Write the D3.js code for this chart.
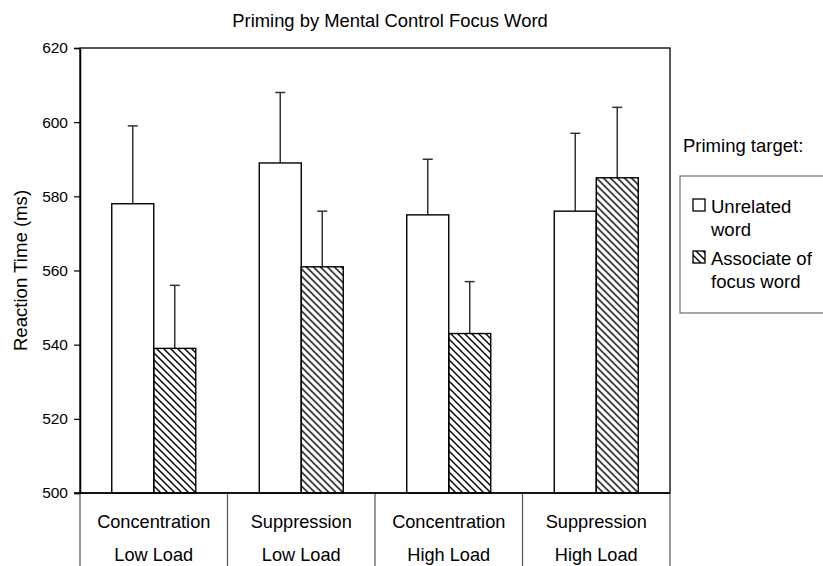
<!DOCTYPE html>
<html>
<head>
<meta charset="utf-8">
<script src="https://cdn.jsdelivr.net/npm/d3@7"></script>
<style>
  body { margin: 0; background: #fff; }
  svg { font-family: "Liberation Sans", Arial, sans-serif; }
</style>
</head>
<body>
<svg id="chart" width="823" height="566"></svg>
<script>
// data
const conditions = ["Concentration|Low Load", "Suppression|Low Load", "Concentration|High Load", "Suppression|High Load"];
const series = ["Unrelated word", "Associate of focus word"];
const unrelated = [578, 589, 575, 576];
const associate = [539, 561, 543, 585];
const unrelatedErr = [21, 19, 15, 21];
const associateErr = [17, 15, 14, 19];
const yTicks = [500, 520, 540, 560, 580, 600, 620];

const rows = conditions.map((c, i) => ({
  cond: c,
  bars: [
    {s: series[0], v: unrelated[i], e: unrelatedErr[i]},
    {s: series[1], v: associate[i], e: associateErr[i]}
  ]
}));

const margin = {top: 48, right: 153, bottom: 73, left: 80},
    width = 823 - margin.left - margin.right,
    height = 566 - margin.top - margin.bottom;

const root = d3.select("#chart");

// hatch pattern for the associate bars
const defs = root.append("defs");
defs.append("pattern")
    .attr("id", "hatch")
    .attr("patternUnits", "userSpaceOnUse")
    .attr("width", 7).attr("height", 7)
  .append("path")
    .attr("d", "M-1,-1 L8,8 M-8,-1 L1,8 M6,-1 L15,8")
    .attr("stroke", "#000")
    .attr("stroke-width", 1.4);

const svg = root.append("g")
    .attr("transform", "translate(" + margin.left + "," + margin.top + ")");

const x0 = d3.scaleBand().domain(conditions).range([0, width]).paddingInner(0);
const x1 = d3.scaleBand().domain(series).range([0, x0.bandwidth()]).paddingInner(0).paddingOuter(0.756);
const y = d3.scaleLinear().domain([500, 620]).range([height, 0]);

// frame
svg.append("rect")
    .attr("width", width).attr("height", height)
    .attr("fill", "none").attr("stroke", "#000").attr("stroke-width", 1.3);

// y axis
const yAxis = svg.append("g")
    .call(d3.axisLeft(y).tickValues(yTicks).tickSize(6).tickPadding(6));
yAxis.select(".domain").attr("stroke-width", 1.5);
yAxis.selectAll("text").attr("font-size", 15.5).attr("fill", "#000")
    .attr("font-family", "Liberation Sans, Arial, sans-serif");
yAxis.selectAll("line").attr("stroke-width", 1.2);

// bars
const groups = svg.append("g").selectAll("g")
    .data(rows)
  .enter().append("g")
    .attr("transform", d => "translate(" + x0(d.cond) + ",0)");

// error bars (upward only) drawn first so bars sit on top
groups.selectAll("line.err")
    .data(d => d.bars)
  .enter().append("line")
    .attr("class", "err")
    .attr("x1", d => x1(d.s) + x1.bandwidth() / 2)
    .attr("x2", d => x1(d.s) + x1.bandwidth() / 2)
    .attr("y1", d => y(d.v))
    .attr("y2", d => y(d.v + d.e))
    .attr("stroke", "#333").attr("stroke-width", 1.5);

groups.selectAll("line.cap")
    .data(d => d.bars)
  .enter().append("line")
    .attr("class", "cap")
    .attr("x1", d => x1(d.s) + x1.bandwidth() / 2 - 5)
    .attr("x2", d => x1(d.s) + x1.bandwidth() / 2 + 5)
    .attr("y1", d => y(d.v + d.e))
    .attr("y2", d => y(d.v + d.e))
    .attr("stroke", "#333").attr("stroke-width", 1.5);

groups.selectAll("rect")
    .data(d => d.bars)
  .enter().append("rect")
    .attr("x", d => x1(d.s))
    .attr("y", d => y(d.v))
    .attr("width", x1.bandwidth())
    .attr("height", d => height - y(d.v))
    .attr("fill", d => d.s === series[0] ? "#fff" : "url(#hatch)")
    .attr("stroke", "#000").attr("stroke-width", 1.4);

// category table below the axis
const cat = svg.append("g").attr("transform", "translate(0," + height + ")");
cat.selectAll("line")
    .data(x0.domain().concat(["end"]))
  .enter().append("line")
    .attr("x1", (d, i) => i < conditions.length ? x0(d) : width)
    .attr("x2", (d, i) => i < conditions.length ? x0(d) : width)
    .attr("y1", 0).attr("y2", margin.bottom)
    .attr("stroke", "#555").attr("stroke-width", 1.2);
cat.append("line")
    .attr("x1", -6).attr("x2", width).attr("y1", 0).attr("y2", 0)
    .attr("stroke", "#000").attr("stroke-width", 1.5);
const catText = cat.selectAll("text.cat")
    .data(conditions)
  .enter().append("text")
    .attr("class", "cat")
    .attr("x", d => x0(d) + x0.bandwidth() / 2)
    .attr("text-anchor", "middle")
    .attr("font-size", 18.2);
catText.append("tspan").attr("y", 35).attr("x", d => x0(d) + x0.bandwidth() / 2).text(d => d.split("|")[0]);
catText.append("tspan").attr("y", 68).attr("x", d => x0(d) + x0.bandwidth() / 2).text(d => d.split("|")[1]);

// title and y label
root.append("text")
    .attr("x", 390).attr("y", 27)
    .attr("text-anchor", "middle").attr("font-size", 18.4)
    .text("Priming by Mental Control Focus Word");
root.append("text")
    .attr("transform", "translate(27," + (margin.top + height / 2) + ") rotate(-90)")
    .attr("text-anchor", "middle").attr("font-size", 18.6)
    .text("Reaction Time (ms)");

// legend
const lg = root.append("g").attr("transform", "translate(680,176)");
lg.append("text").attr("x", 3).attr("y", -24).attr("font-size", 18.5).text("Priming target:");
lg.append("rect")
    .attr("x", 0).attr("y", 0).attr("width", 160).attr("height", 137)
    .attr("fill", "#fff").attr("stroke", "#777").attr("stroke-width", 1.3);
const legendLines = [["Unrelated", "word"], ["Associate of", "focus word"]];
const li = lg.selectAll("g.item")
    .data(series)
  .enter().append("g")
    .attr("class", "item")
    .attr("transform", (d, i) => "translate(0," + (i * 52) + ")");
li.append("rect")
    .attr("x", 13).attr("y", 23).attr("width", 12).attr("height", 12)
    .attr("fill", (d, i) => i === 0 ? "#fff" : "url(#hatch)")
    .attr("stroke", "#000").attr("stroke-width", 1.3);
li.append("text")
    .attr("font-size", 18.5)
    .each(function(d, i) {
      const t = d3.select(this);
      t.append("tspan").attr("x", 31).attr("y", 37).text(legendLines[i][0]);
      t.append("tspan").attr("x", 31).attr("y", 60).text(legendLines[i][1]);
    });
</script>
</body>
</html>
